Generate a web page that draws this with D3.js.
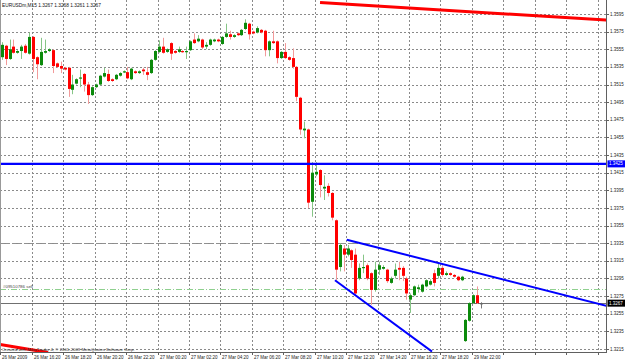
<!DOCTYPE html>
<html>
<head>
<meta charset="utf-8">
<script src="https://cdn.jsdelivr.net/npm/d3@7"></script>
<style>
  body { margin: 0; background: #fff; }
  text { font-family: "Liberation Sans", Arial, sans-serif; }
</style>
</head>
<body>
<div id="chart"></div>
<script>
// EURUSDm 15 minute bars
const opens = [1.3546,1.3559,1.3544,1.3558,1.3551,1.3553,1.3559,1.3550,1.3569,1.3546,1.3537,1.3551,1.3553,1.3554,1.3539,1.3536,1.3534,1.3534,1.3509,1.3516,
  1.3522,1.3527,1.3515,1.3503,1.3512,1.3515,1.3524,1.3527,1.3521,1.3521,1.3525,1.3529,1.3529,1.3521,1.3530,1.3528,1.3532,1.3529,1.3528,1.3543,
  1.3552,1.3558,1.3552,1.3562,1.3553,1.3552,1.3553,1.3552,1.3554,1.3566,1.3564,1.3566,1.3558,1.3560,1.3564,1.3566,1.3561,1.3569,1.3572,1.3569,
  1.3573,1.3571,1.3578,1.3584,1.3575,1.3574,1.3577,1.3576,1.3554,1.3564,1.3564,1.3545,1.3552,1.3546,1.3545,1.3535,1.3500,1.3463,1.3464,1.3382,
  1.3413,1.3418,1.3397,1.3400,1.3392,1.3361,1.3308,1.3329,1.3322,1.3327,1.3322,1.3295,1.3307,1.3310,1.3301,1.3282,1.3305,1.3306,1.3305,1.3290,
  1.3298,1.3307,1.3307,1.3295,1.3271,1.3276,1.3283,1.3280,1.3286,1.3288,1.3301,1.3298,1.3307,1.3299,1.3301,1.3299,1.3297,1.3293,1.3224,1.3247,
  1.3267,1.3276,1.3267];
const highs = [1.3563,1.3560,1.3566,1.3566,1.3554,1.3560,1.3561,1.3574,1.3570,1.3547,1.3568,1.3566,1.3556,1.3555,1.3540,1.3541,1.3535,1.3535,1.3526,1.3522,
  1.3532,1.3528,1.3518,1.3513,1.3516,1.3526,1.3534,1.3532,1.3522,1.3527,1.3529,1.3531,1.3535,1.3534,1.3531,1.3531,1.3534,1.3535,1.3544,1.3554,
  1.3565,1.3568,1.3556,1.3563,1.3554,1.3558,1.3554,1.3558,1.3565,1.3573,1.3571,1.3567,1.3563,1.3567,1.3567,1.3567,1.3570,1.3584,1.3576,1.3572,
  1.3574,1.3578,1.3589,1.3585,1.3576,1.3581,1.3578,1.3577,1.3565,1.3576,1.3565,1.3553,1.3562,1.3547,1.3556,1.3536,1.3501,1.3473,1.3465,1.3427,
  1.3427,1.3419,1.3412,1.3403,1.3393,1.3362,1.3335,1.3333,1.3333,1.3328,1.3329,1.3312,1.3322,1.3312,1.3302,1.3314,1.3314,1.3310,1.3306,1.3297,
  1.3312,1.3314,1.3309,1.3297,1.3278,1.3287,1.3288,1.3289,1.3294,1.3294,1.3305,1.3312,1.3310,1.3303,1.3302,1.3300,1.3298,1.3298,1.3249,1.3268,
  1.3277,1.3286,1.3268];
const lows = [1.3543,1.3537,1.3543,1.3550,1.3550,1.3544,1.3550,1.3549,1.3529,1.3521,1.3536,1.3550,1.3552,1.3528,1.3534,1.3528,1.3531,1.3501,1.3504,1.3515,
  1.3512,1.3507,1.3493,1.3502,1.3511,1.3514,1.3523,1.3518,1.3518,1.3520,1.3524,1.3528,1.3521,1.3520,1.3527,1.3527,1.3526,1.3520,1.3527,1.3542,
  1.3551,1.3550,1.3551,1.3543,1.3550,1.3551,1.3551,1.3544,1.3553,1.3561,1.3563,1.3555,1.3555,1.3559,1.3563,1.3563,1.3560,1.3568,1.3566,1.3568,
  1.3570,1.3570,1.3577,1.3566,1.3572,1.3573,1.3573,1.3547,1.3547,1.3561,1.3539,1.3544,1.3544,1.3542,1.3533,1.3496,1.3458,1.3454,1.3375,1.3365,
  1.3411,1.3387,1.3384,1.3388,1.3361,1.3293,1.3303,1.3303,1.3320,1.3307,1.3276,1.3293,1.3301,1.3293,1.3265,1.3280,1.3299,1.3305,1.3290,1.3289,
  1.3295,1.3293,1.3292,1.3271,1.3256,1.3275,1.3279,1.3279,1.3285,1.3287,1.3286,1.3295,1.3297,1.3298,1.3298,1.3296,1.3292,1.3292,1.3223,1.3246,
  1.3266,1.3266,1.3261];
const closes = [1.3560,1.3544,1.3555,1.3551,1.3553,1.3558,1.3551,1.3569,1.3544,1.3538,1.3552,1.3553,1.3555,1.3536,1.3535,1.3533,1.3532,1.3510,1.3515,1.3521,
  1.3523,1.3515,1.3503,1.3512,1.3515,1.3525,1.3528,1.3519,1.3519,1.3526,1.3528,1.3530,1.3522,1.3533,1.3528,1.3530,1.3530,1.3526,1.3543,1.3553,
  1.3558,1.3551,1.3555,1.3550,1.3551,1.3555,1.3552,1.3553,1.3564,1.3562,1.3567,1.3557,1.3560,1.3566,1.3566,1.3564,1.3569,1.3573,1.3569,1.3571,
  1.3571,1.3577,1.3585,1.3572,1.3573,1.3579,1.3574,1.3554,1.3564,1.3562,1.3545,1.3552,1.3545,1.3543,1.3535,1.3501,1.3464,1.3465,1.3381,1.3415,
  1.3416,1.3401,1.3399,1.3392,1.3364,1.3305,1.3333,1.3322,1.3329,1.3316,1.3278,1.3307,1.3308,1.3295,1.3282,1.3305,1.3310,1.3308,1.3292,1.3295,
  1.3305,1.3305,1.3298,1.3278,1.3276,1.3286,1.3285,1.3288,1.3293,1.3292,1.3290,1.3307,1.3299,1.3301,1.3299,1.3297,1.3293,1.3297,1.3248,1.3267,
  1.3276,1.3267,1.3267];

const priceTicks = [1.3595,1.3575,1.3555,1.3535,1.3515,1.3495,1.3475,1.3455,1.3435,1.3415,
  1.3395,1.3375,1.3355,1.3335,1.3315,1.3295,1.3275,1.3255,1.3235,1.3215];
const timeLabels = ["26 Mar 2009","26 Mar 16:20","26 Mar 18:20","26 Mar 20:20","26 Mar 22:20","27 Mar 00:20",
  "27 Mar 02:20","27 Mar 04:20","27 Mar 06:20","27 Mar 08:20","27 Mar 10:20","27 Mar 12:20","27 Mar 14:20",
  "27 Mar 16:20","27 Mar 18:20","29 Mar 22:00"];
const gridBars = [0,8,16,24,32,40,48,56,64,72,80,88,96,104,112,120,128,136,144,152];

// objects on the chart: [bar, price] end points
const hLineBlue = 1.3425;
const bidPrice = 1.3267;
const sellOrder = 1.3283;
const stopLevel = 1.3335;
const redTop = [[81.0, 1.3608], [154.0, 1.3588]];
const redLow = [[-0.4, 1.3220], [11.8, 1.3211]];
const blueUpper = [[87.8, 1.3339], [153.9, 1.3264]];
const blueLower = [[84.8, 1.3293], [109.5, 1.3212]];

const width = 625, height = 362;
const plotRight = 606, plotBottom = 352;

const svg = d3.select("#chart").append("svg")
  .attr("width", width).attr("height", height);
svg.append("rect").attr("width", width).attr("height", height).attr("fill", "#fff");

const x = d3.scaleLinear().domain([0, 152]).range([1.7, 1.7 + 152 * 3.93]);
const y = d3.scaleLinear().domain([1.3595, 1.3215]).range([14, 349]);
const crisp = v => Math.round(v) + 0.5;
const gx = b => crisp(x(b) - 1.4);

svg.append("clipPath").attr("id", "plot")
  .append("rect").attr("x", 0).attr("y", 0).attr("width", plotRight).attr("height", plotBottom);

// grid
const grid = svg.append("g").attr("stroke", "#8a8a8a").attr("stroke-dasharray", "2,2").attr("stroke-width", 1);
grid.selectAll("line.h").data(priceTicks).join("line").attr("class", "h")
  .attr("x1", 0).attr("x2", plotRight).attr("y1", d => crisp(y(d))).attr("y2", d => crisp(y(d)));
grid.selectAll("line.v").data(gridBars.slice(1)).join("line").attr("class", "v")
  .attr("x1", gx).attr("x2", gx).attr("y1", 0).attr("y2", plotBottom);

const plot = svg.append("g").attr("clip-path", "url(#plot)");

// order / bid lines
plot.append("line").attr("x1", 0).attr("x2", plotRight)
  .attr("y1", crisp(y(stopLevel))).attr("y2", crisp(y(stopLevel)))
  .attr("stroke", "#909090").attr("stroke-dasharray", "4,2");
plot.append("line").attr("x1", 0).attr("x2", plotRight)
  .attr("y1", crisp(y(sellOrder))).attr("y2", crisp(y(sellOrder)))
  .attr("stroke", "#8fd08f").attr("stroke-dasharray", "6,2,1,2");
plot.append("line").attr("x1", 0).attr("x2", plotRight)
  .attr("y1", crisp(y(bidPrice))).attr("y2", crisp(y(bidPrice)))
  .attr("stroke", "#707070");
svg.append("text").attr("x", 3).attr("y", y(sellOrder) - 1.5)
  .attr("font-size", 4.4).attr("fill", "#444").text("#09510786 sell");

// candles
const bars = opens.map((o, i) => ({i, o, h: highs[i], l: lows[i], c: closes[i]}));
const candles = plot.append("g").selectAll("g").data(bars).join("g");
candles.append("line")
  .attr("x1", d => crisp(x(d.i))).attr("x2", d => crisp(x(d.i)))
  .attr("y1", d => y(d.h)).attr("y2", d => y(d.l))
  .attr("stroke", d => d.c > d.o ? "#86c586" : d.c < d.o ? "#f29a9a" : "#777");
candles.append("rect")
  .attr("x", d => Math.round(x(d.i)) - 1)
  .attr("y", d => y(Math.max(d.o, d.c)))
  .attr("width", 3)
  .attr("height", d => Math.max(1.2, Math.abs(y(d.o) - y(d.c))))
  .attr("fill", d => d.c > d.o ? "#0b8a0b" : d.c < d.o ? "#ff0000" : "#666");

// trend lines
const line = d3.line().x(d => x(d[0])).y(d => y(d[1]));
plot.append("path").attr("d", line(redTop)).attr("stroke", "#ff0000").attr("stroke-width", 3).attr("fill", "none");
plot.append("path").attr("d", line(redLow)).attr("stroke", "#ff0000").attr("stroke-width", 3).attr("fill", "none");
plot.append("path").attr("d", line(blueUpper)).attr("stroke", "#0000ff").attr("stroke-width", 2).attr("fill", "none");
plot.append("path").attr("d", line(blueLower)).attr("stroke", "#0000ff").attr("stroke-width", 2).attr("fill", "none");
plot.append("line").attr("x1", 0).attr("x2", plotRight)
  .attr("y1", y(hLineBlue)).attr("y2", y(hLineBlue))
  .attr("stroke", "#0000ff").attr("stroke-width", 2.2);

// frame
svg.append("line").attr("x1", 0.5).attr("x2", 0.5).attr("y1", 0).attr("y2", plotBottom).attr("stroke", "#999");
svg.append("line").attr("x1", plotRight + 0.5).attr("x2", plotRight + 0.5).attr("y1", 0).attr("y2", plotBottom + 1).attr("stroke", "#606060");
svg.append("line").attr("x1", 0).attr("x2", plotRight + 1).attr("y1", plotBottom + 0.5).attr("y2", plotBottom + 0.5).attr("stroke", "#606060");

// price axis
const pAxis = svg.append("g");
pAxis.selectAll("line").data(priceTicks).join("line")
  .attr("x1", plotRight).attr("x2", plotRight + 3)
  .attr("y1", d => crisp(y(d))).attr("y2", d => crisp(y(d))).attr("stroke", "#606060");
pAxis.selectAll("text").data(priceTicks).join("text")
  .attr("x", 610).attr("y", d => y(d)).attr("dy", "0.35em")
  .attr("font-size", 4.5).attr("fill", "#222")
  .text(d => d.toFixed(4));

function priceTag(p, bg) {
  svg.append("rect").attr("x", 607.5).attr("y", y(p) - 3.5).attr("width", 17.5).attr("height", 7).attr("fill", bg);
  svg.append("text").attr("x", 609).attr("y", y(p)).attr("dy", "0.35em")
    .attr("font-size", 4.5).attr("fill", "#fff").text(p.toFixed(4));
}
priceTag(hLineBlue, "#0000ff");
priceTag(bidPrice, "#000");

// time axis
svg.append("g").selectAll("line").data(gridBars).join("line")
  .attr("x1", gx).attr("x2", gx).attr("y1", plotBottom).attr("y2", plotBottom + 3)
  .attr("stroke", "#606060");
svg.append("g").selectAll("text").data(timeLabels).join("text")
  .attr("x", (d, k) => gx(gridBars[k]) + 1.5).attr("y", 359)
  .attr("font-size", 4.5).attr("fill", "#222")
  .text(d => d);

// header and copyright
svg.append("text").attr("x", 2).attr("y", 6.5).attr("font-size", 4.8).attr("fill", "#111")
  .text("EURUSDm,M15  1.3267 1.3268 1.3261 1.3267");
svg.append("text").attr("x", 2).attr("y", 350.5).attr("font-size", 4.3).attr("fill", "#333")
  .text("Created with MetaTrader 4, \u00a9 2001-2009 MetaQuotes Software Corp.");
</script>
</body>
</html>
